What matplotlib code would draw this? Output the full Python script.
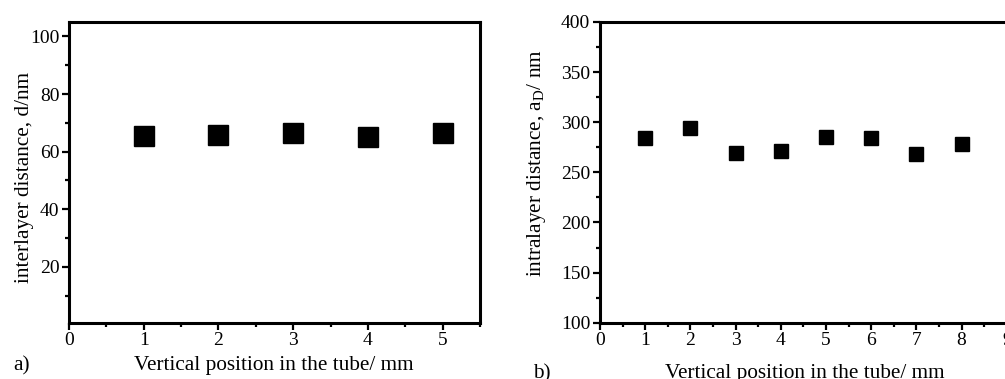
import matplotlib
matplotlib.use("Agg")
import matplotlib.pyplot as plt
from matplotlib.ticker import MultipleLocator

plt.rcParams['font.family'] = ['Liberation Serif', 'DejaVu Serif']

# Panel a data
pos_a = [1, 2, 3, 4, 5]
d_a = [65.3, 65.7, 66.3, 65.0, 66.6]
# Panel b data
pos_b = [1, 2, 3, 4, 5, 6, 7, 8]
aD_b = [284.7, 294.3, 269.4, 271.0, 285.0, 284.4, 268.8, 278.7]

W, H = 1005, 379
fig = plt.figure(figsize=(W / 100, H / 100), dpi=100)

def px_axes(left, top, right, bottom):
    return fig.add_axes([left / W, 1 - bottom / H, (right - left) / W, (bottom - top) / H])

def style(ax):
    for s in ax.spines.values():
        s.set_linewidth(2.2)
    ax.tick_params(which='major', direction='out', length=5, width=1.6, labelsize=14, pad=2)
    ax.tick_params(which='minor', direction='out', length=3, width=1.6)

ax1 = px_axes(69, 22, 480, 322.7)
ax1.plot(pos_a, d_a, 's', color='black', markersize=14.9, linestyle='none')
ax1.set_xlim(0, 5.5)
ax1.set_ylim(0.6, 105)
ax1.set_xticks([0, 1, 2, 3, 4, 5])
ax1.set_yticks([20, 40, 60, 80, 100])
ax1.xaxis.set_minor_locator(MultipleLocator(0.5))
ax1.yaxis.set_minor_locator(MultipleLocator(10))
style(ax1)

ax2 = px_axes(600, 22, 600 + 9.2 * 45.2, 322.7)
ax2.plot(pos_b, aD_b, 's', color='black', markersize=10.3, linestyle='none')
ax2.set_xlim(0, 9.2)
ax2.set_ylim(100, 400)
ax2.set_xticks(range(0, 10))
ax2.set_yticks([100, 150, 200, 250, 300, 350, 400])
ax2.xaxis.set_minor_locator(MultipleLocator(0.5))
ax2.yaxis.set_minor_locator(MultipleLocator(25))
style(ax2)

fs = 15.3
fig.text(274 / W, 1 - 370 / H, 'Vertical position in the tube/ mm', ha='center', va='baseline', fontsize=fs)
fig.text(13 / W, 1 - 370 / H, 'a)', ha='left', va='baseline', fontsize=fs)
fig.text(25 / W, 1 - 177 / H, 'interlayer distance, d/nm', ha='center', va='center', rotation=90, fontsize=fs)

fig.text(805 / W, 1 - 378 / H, 'Vertical position in the tube/ mm', ha='center', va='baseline', fontsize=fs)
fig.text(533 / W, 1 - 378 / H, 'b)', ha='left', va='baseline', fontsize=fs)
fig.text(537 / W, 1 - 163 / H, r'intralayer distance, a$_{\mathregular{D}}$/ nm', ha='center', va='center', rotation=90, fontsize=fs)

fig.savefig('out.png', dpi=100)
